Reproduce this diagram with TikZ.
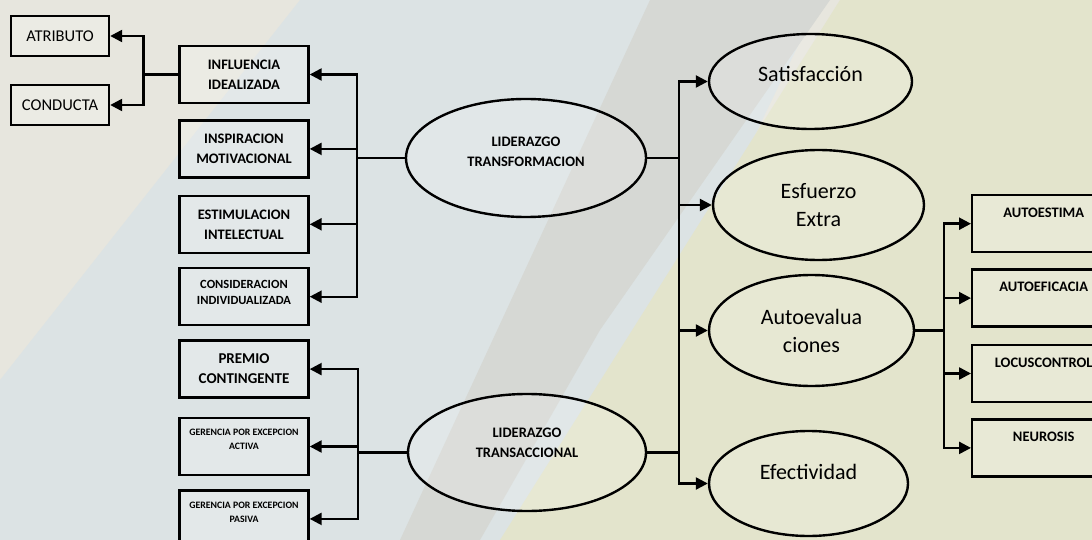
\documentclass[tikz,border=0pt]{standalone}
\usepackage{fontspec}
\setmainfont{Carlito}
\usetikzlibrary{arrows.meta,positioning,shapes.geometric}

\definecolor{bgbase}{HTML}{E7E6DE}
\definecolor{bgblue}{HTML}{DCE3E4}
\definecolor{bgolive}{HTML}{E3E4CC}
\definecolor{bggray}{HTML}{D6D8D4}

\begin{document}
\begin{tikzpicture}[
  x=1pt, y=-1pt,
  node distance=13pt,
  lbox/.style={draw, line width=2.4pt, fill=white, fill opacity=0.2, text opacity=1, minimum width=129pt, minimum height=57pt, inner sep=0pt, align=center, font=\bfseries\fontsize{14.5}{20}\selectfont},
  abox/.style={lbox, minimum width=98pt, minimum height=40pt, font=\fontsize{16.5}{20}\selectfont},
  gbox/.style={lbox, font=\bfseries\fontsize{9.8}{14}\selectfont},
  rbox/.style={lbox, minimum width=143pt, text height=22pt, text depth=35pt},
  oval/.style={ellipse, draw, line width=2.4pt, fill=white, fill opacity=0.15, text opacity=1, inner sep=0pt, align=center},
  lead/.style={oval, minimum width=240pt, minimum height=118pt, font=\bfseries\fontsize{14.5}{20}\selectfont},
  result/.style={oval, font=\fontsize{22}{28}\selectfont},
  wire/.style={line width=2.4pt},
  flow/.style={-{Triangle[length=12pt,width=12pt]}, line width=2.4pt}
]
\useasboundingbox (0,0) rectangle (1092,540);

% background
\fill[bgbase] (0,0) rectangle (1092,540);
\fill[bgblue] (300,0) -- (820,0) -- (560,540) -- (0,540) -- (0,380) -- cycle;
\fill[bggray] (650,0) -- (830,0) -- (600,330) -- (480,540) -- (400,540) -- cycle;
\fill[bgolive] (840,0) -- (1092,0) -- (1092,540) -- (500,540) -- cycle;

% left side
\node[abox] (atr) at (60,36) {ATRIBUTO};
\node[abox] (cond) at (60,105) {CONDUCTA};

\node[lbox] (infl) at (244,74.5) {INFLUENCIA\\IDEALIZADA};
\node[lbox, below=15pt of infl] (insp) {INSPIRACION\\MOTIVACIONAL};
\node[lbox, below=16pt of insp] (estm) {ESTIMULACION\\INTELECTUAL};
\node[lbox, below=of estm, font=\bfseries\fontsize{12.5}{16}\selectfont] (cons) {CONSIDERACION\\INDIVIDUALIZADA\\[-8pt]\mbox{}};
\node[lbox, below=of cons, font=\bfseries\fontsize{15}{20}\selectfont] (prem) {PREMIO\\CONTINGENTE};
\node[gbox, below=18pt of prem] (gact) {GERENCIA POR EXCEPCION\\ACTIVA\\\mbox{}};
\node[gbox, below=of gact] (gpas) {GERENCIA POR EXCEPCION\\PASIVA\\\mbox{}};

% leadership
\node[lead] (trf) at (526,158) {LIDERAZGO\\TRANSFORMACION\\[-7pt]\mbox{}};
\node[lead, minimum width=238pt, minimum height=117pt] (trc) at (527,452.5) {LIDERAZGO\\TRANSACCIONAL\\\mbox{}};

% results
\node[result, minimum width=203pt, minimum height=95pt, text height=16pt, text depth=16pt] (sat) at (810.5,81.5) {Satisfacción};
\node[result, minimum width=211pt, minimum height=110pt] (esf) at (818.5,205) {Esfuerzo\\Extra};
\node[result, minimum width=205pt, minimum height=111pt] (auto) at (811.5,330.5) {Autoevalua\\ciones};
\node[result, minimum width=199pt, minimum height=105pt, text height=16pt, text depth=24pt] (efe) at (808.5,483.5) {Efectividad};

\node[rbox] (aest) at (1043.7,223.7) {AUTOESTIMA};
\node[rbox, below=15pt of aest] (aefi) {AUTOEFICACIA};
\node[rbox, below=16pt of aefi] (locus) {LOCUSCONTROL};
\node[rbox, below=15pt of locus] (neur) {NEUROSIS};

% junctions
\coordinate (jinf) at ([xshift=-35pt]infl.west);
\coordinate (jtrf) at ([xshift=-48pt]trf.west);
\coordinate (jtrc) at ([xshift=-49pt]trc.west);
\coordinate (jout) at ([xshift=32pt]trf.east);
\coordinate (jaut) at ([xshift=29pt]auto.east);

\draw[wire] (infl.west) -- (jinf);
\draw[flow] (jinf) |- (atr.east);
\draw[flow] (jinf) |- (cond.east);

\draw[wire] (trf.west) -- (jtrf);
\draw[flow] (jtrf) |- (infl.east);
\draw[flow] (jtrf) |- (insp.east);
\draw[flow] (jtrf) |- (estm.east);
\draw[flow] (jtrf) |- (cons.east);

\draw[wire] (trc.west) -- (jtrc);
\draw[flow] (jtrc) |- (prem.east);
\draw[flow] (jtrc) |- (gact.east);
\draw[flow] (jtrc) |- (gpas.east);

\draw[wire] (trf.east) -- (jout);
\draw[wire] (trc.east) -| (jout);
\draw[flow] (jout) |- (sat.west);
\draw[flow] (jout) |- (esf.west);
\draw[flow] (jout) |- (auto.west);
\draw[flow] (jout) |- (efe.west);

\draw[wire] (auto.east) -- (jaut);
\draw[flow] (jaut) |- (aest.west);
\draw[flow] (jaut) |- (aefi.west);
\draw[flow] (jaut) |- (locus.west);
\draw[flow] (jaut) |- (neur.west);
\end{tikzpicture}
\end{document}
